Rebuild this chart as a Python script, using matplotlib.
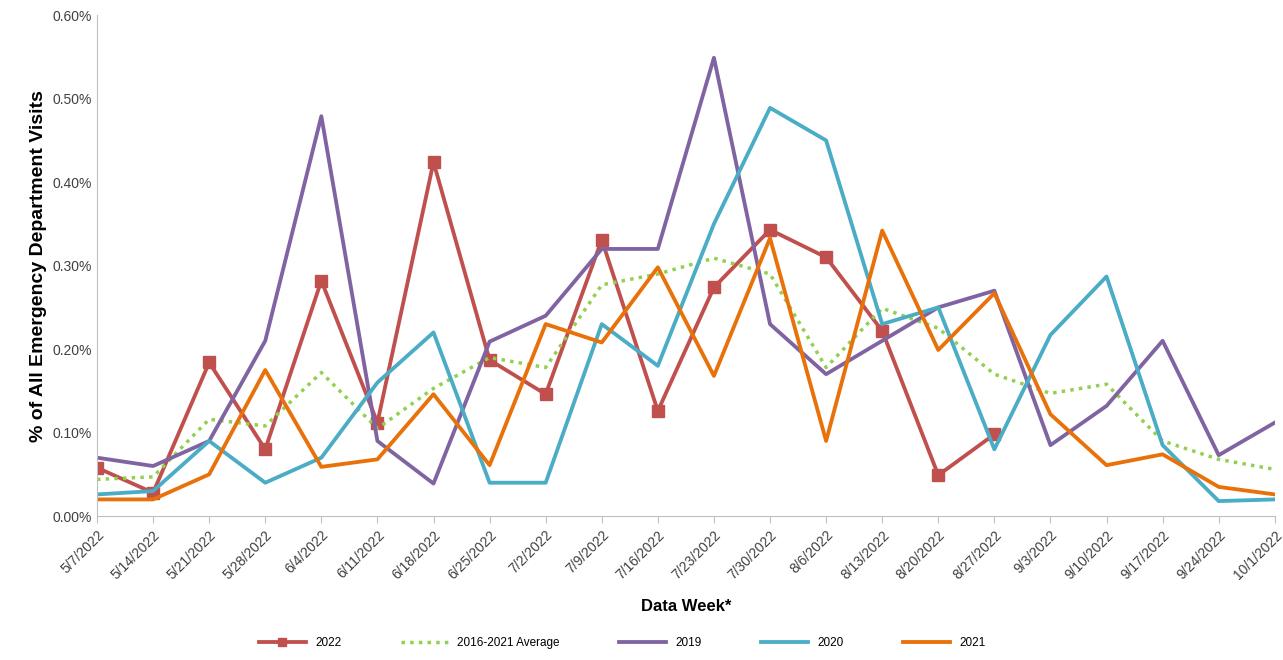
import matplotlib.pyplot as plt
from matplotlib.ticker import FuncFormatter

weeks = ['5/7/2022', '5/14/2022', '5/21/2022', '5/28/2022', '6/4/2022', '6/11/2022',
         '6/18/2022', '6/25/2022', '7/2/2022', '7/9/2022', '7/16/2022', '7/23/2022',
         '7/30/2022', '8/6/2022', '8/13/2022', '8/20/2022', '8/27/2022', '9/3/2022',
         '9/10/2022', '9/17/2022', '9/24/2022', '10/1/2022']

y2022 = [0.058, 0.028, 0.184, 0.080, 0.282, 0.112, 0.424, 0.187, 0.146, 0.331, 0.126,
         0.274, 0.343, 0.310, 0.222, 0.049, 0.098]
avg = [0.044, 0.047, 0.116, 0.108, 0.172, 0.105, 0.153, 0.190, 0.178, 0.277, 0.290,
       0.309, 0.290, 0.178, 0.249, 0.225, 0.170, 0.147, 0.158, 0.090, 0.068, 0.056]
y2019 = [0.070, 0.060, 0.090, 0.210, 0.479, 0.090, 0.039, 0.209, 0.240, 0.320, 0.320,
         0.549, 0.230, 0.170, 0.210, 0.250, 0.270, 0.085, 0.132, 0.210, 0.073, 0.112]
y2020 = [0.026, 0.030, 0.090, 0.040, 0.070, 0.160, 0.220, 0.040, 0.040, 0.230, 0.180,
         0.350, 0.489, 0.450, 0.230, 0.250, 0.080, 0.217, 0.287, 0.085, 0.018, 0.020]
y2021 = [0.020, 0.020, 0.050, 0.175, 0.059, 0.068, 0.146, 0.061, 0.230, 0.208, 0.298,
         0.168, 0.333, 0.090, 0.342, 0.199, 0.267, 0.122, 0.061, 0.074, 0.035, 0.026]

plt.rcParams['font.family'] = ['Liberation Sans', 'DejaVu Sans']
fig = plt.figure(figsize=(12.83, 6.6), dpi=100)
ax = fig.add_axes([0.0756, 0.218, 0.918, 0.759])

x = list(range(len(weeks)))
ax.plot(x[:len(y2022)], y2022, color='#C0504D', lw=2.75, marker='s', ms=8, label='2022')
ax.plot(x, avg, color='#92D050', lw=2.5, ls=(0, (1, 1.5)), label='2016-2021 Average')
ax.plot(x, y2019, color='#8064A2', lw=2.75, label='2019')
ax.plot(x, y2020, color='#4BACC6', lw=2.75, label='2020')
ax.plot(x, y2021, color='#E8710A', lw=2.75, label='2021')

ax.set_xlim(0, len(weeks) - 1)
ax.set_ylim(0, 0.6)
ax.set_yticks([0, 0.1, 0.2, 0.3, 0.4, 0.5, 0.6])
ax.yaxis.set_major_formatter(FuncFormatter(lambda v, p: f'{v:.2f}%'))
ax.set_xticks(x)
ax.set_xticklabels(weeks, rotation=45, ha='right', rotation_mode='anchor')
ax.tick_params(axis='both', labelsize=10, colors='#404040')
ax.tick_params(axis='y', length=0)
ax.tick_params(axis='x', length=5, color='#BFBFBF')
for s in ['top', 'right']:
    ax.spines[s].set_visible(False)
ax.spines['bottom'].set_color('#BFBFBF')
ax.spines['left'].set_color('#BFBFBF')

ax.set_xlabel('Data Week*', fontsize=12, fontweight='bold', labelpad=12)
ax.set_ylabel('% of All Emergency Department Visits', fontsize=14, fontweight='bold')

fig.legend(loc='lower center', ncol=5, frameon=False, fontsize=8.5, markerscale=0.8,
           bbox_to_anchor=(0.485, 0.0), columnspacing=5, handlelength=4)

plt.savefig('out.png', dpi=100)
